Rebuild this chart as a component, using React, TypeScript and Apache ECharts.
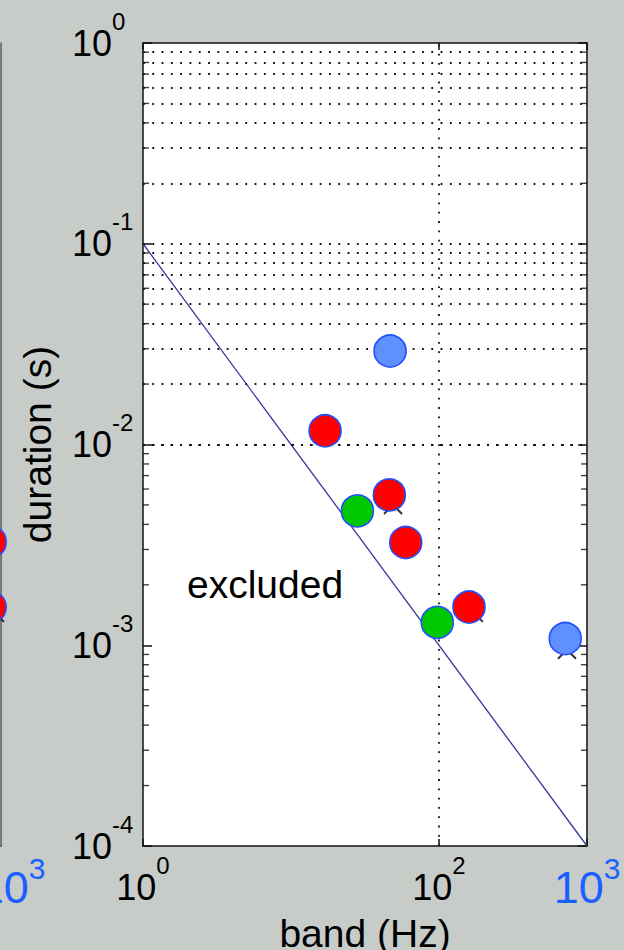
import React, { useEffect, useRef } from 'react';
import * as echarts from 'echarts';

const FONT = '"Liberation Sans", Arial, Helvetica, sans-serif';

// Tick values
const xTickValues = [1, 100, 1000];
const xBlueTick = 1000;
const yTickValues = [1e-4, 1e-3, 1e-2, 1e-1, 1];
const yGridMajor = [1e-3, 1e-2, 1e-1];
const yGridMinor = [
  2e-4, 3e-4, 4e-4, 5e-4, 6e-4, 7e-4, 8e-4, 9e-4,
  2e-3, 3e-3, 4e-3, 5e-3, 6e-3, 7e-3, 8e-3, 9e-3,
  2e-2, 3e-2, 4e-2, 5e-2, 6e-2, 7e-2, 8e-2, 9e-2,
  2e-1, 3e-1, 4e-1, 5e-1, 6e-1, 7e-1, 8e-1, 9e-1,
];
const xGridValues = [100];

// Exclusion boundary (duration = 0.1 / band)
const excludedLine = [[1, 0.1], [1000, 0.0001]];

// Main panel points [band (Hz), duration (s)]
const redPoints = [[17.0, 0.0117], [46.2, 0.00561], [59.6, 0.00325], [159.5, 0.00155]];
const greenPoints = [[28.1, 0.00467], [97.4, 0.0013]];
const bluePoints = [[46.7, 0.0292], [713, 0.00108]];
const crossPoints = [[48.9, 0.005], [172, 0.00145], [732, 0.00095]];

// Partially visible neighbouring panel
const leftRedPoints = [[845, 0.00327], [845, 0.00155]];
const leftCrossPoints = [[911, 0.00145]];

const BLACK = '#111';
const BLUE_TXT = '#1a5fff';
const CIRCLE_BORDER = '#1f4fff';

const rich = {
  b: { fontSize: 36, lineHeight: 68, fontFamily: FONT, color: '#000', verticalAlign: 'middle' },
  s: { fontSize: 24, lineHeight: 24, fontFamily: FONT, color: '#000', verticalAlign: 'top' },
  B: { fontSize: 45, lineHeight: 68, fontFamily: FONT, color: BLUE_TXT, verticalAlign: 'middle' },
  S: { fontSize: 30, lineHeight: 30, fontFamily: FONT, color: BLUE_TXT, verticalAlign: 'top' },
};

const expOf = (v: number) => Math.round(Math.log10(v));
const xLabel = (v: number) =>
  v === xBlueTick ? `{B|10}{S|${expOf(v)}}` : `{b|10}{s|${expOf(v)}}`;
const yLabel = (v: number) => `{b|10}{s|${expOf(v)}}`;

const circleSeries = (data: number[][], color: string, xi = 0, yi = 0) => ({
  type: 'scatter',
  xAxisIndex: xi,
  yAxisIndex: yi,
  data,
  symbol: 'circle',
  symbolSize: 32,
  clip: false,
  silent: true,
  itemStyle: { color, borderColor: CIRCLE_BORDER, borderWidth: 1.6, opacity: 1 },
  z: 6,
});

const crossSeries = (data: number[][], xi = 0, yi = 0) => ({
  type: 'scatter',
  xAxisIndex: xi,
  yAxisIndex: yi,
  data,
  symbol: 'path://M0,0L10,10M10,0L0,10',
  symbolSize: 18,
  clip: false,
  silent: true,
  itemStyle: { color: 'rgba(0,0,0,0)', borderColor: '#000', borderWidth: 2 },
  z: 4,
});

const minorTickSeries = (xVal: number, offset: number) => ({
  type: 'scatter',
  xAxisIndex: 0,
  yAxisIndex: 0,
  data: yGridMinor.map((v) => [xVal, v]),
  symbol: 'rect',
  symbolSize: [6, 1.4],
  symbolOffset: [offset, 0],
  clip: false,
  silent: true,
  itemStyle: { color: BLACK },
  z: 7,
});

export default function App() {
  const ref = useRef<HTMLDivElement>(null);

  useEffect(() => {
    if (!ref.current) return;
    const chart = echarts.init(ref.current, undefined, { renderer: 'svg' });

    const axisLine = { show: true, onZero: false, lineStyle: { color: BLACK, width: 1.5 } };

    const option: any = {
      animation: false,
      backgroundColor: '#c8ccc8',
      grid: [
        {
          left: 143, top: 43, width: 444, height: 803,
          show: true, backgroundColor: '#ffffff', borderWidth: 0,
          containLabel: false, outerBoundsMode: 'none',
        },
        {
          left: -443, top: 43, width: 444, height: 803,
          show: true, backgroundColor: '#ffffff', borderWidth: 0,
          containLabel: false, outerBoundsMode: 'none',
        },
      ],
      xAxis: [
        {
          gridIndex: 0, type: 'log', logBase: 10, min: 1, max: 1000, position: 'bottom',
          axisLine,
          axisTick: { show: true, inside: true, length: 7, customValues: xTickValues, lineStyle: { color: BLACK, width: 1.5 } },
          axisLabel: {
            show: true, customValues: xTickValues, margin: 7, formatter: xLabel, rich,
            showMinLabel: true, showMaxLabel: true,
          },
          splitLine: { show: false },
          minorTick: { show: false },
          name: 'band (Hz)', nameLocation: 'middle', nameGap: 51,
          nameTextStyle: { fontSize: 39, fontFamily: FONT, color: '#000' },
        },
        {
          gridIndex: 0, type: 'log', logBase: 10, min: 1, max: 1000, position: 'top',
          axisLine,
          axisTick: { show: true, inside: true, length: 7, customValues: xTickValues, lineStyle: { color: BLACK, width: 1.5 } },
          axisLabel: { show: false },
          splitLine: { show: false },
        },
        {
          gridIndex: 1, type: 'log', logBase: 10, min: 1, max: 1000, position: 'bottom',
          axisLine: { show: true, onZero: false, lineStyle: { color: '#555', width: 1.5 } },
          axisTick: { show: false },
          axisLabel: {
            show: true, customValues: [xBlueTick], margin: 7, formatter: xLabel, rich,
            padding: [0, 0, 0, 22], showMaxLabel: true,
          },
          splitLine: { show: false },
        },
      ],
      yAxis: [
        {
          gridIndex: 0, type: 'log', logBase: 10, min: 1e-4, max: 1, position: 'left',
          axisLine,
          axisTick: { show: true, inside: true, length: 9, customValues: yTickValues, lineStyle: { color: BLACK, width: 1.5 } },
          axisLabel: {
            show: true, customValues: yTickValues, align: 'left', margin: 71, formatter: yLabel, rich,
            showMinLabel: true, showMaxLabel: true,
          },
          splitLine: { show: false },
          name: 'duration (s)', nameLocation: 'middle', nameGap: 86,
          nameTextStyle: { fontSize: 39, fontFamily: FONT, color: '#000' },
        },
        {
          gridIndex: 0, type: 'log', logBase: 10, min: 1e-4, max: 1, position: 'right',
          axisLine,
          axisTick: { show: true, inside: true, length: 9, customValues: yTickValues, lineStyle: { color: BLACK, width: 1.5 } },
          axisLabel: { show: false },
          splitLine: { show: false },
        },
        {
          gridIndex: 1, type: 'log', logBase: 10, min: 1e-4, max: 1, position: 'right',
          axisLine: { show: true, onZero: false, lineStyle: { color: '#555', width: 1.5 } },
          axisTick: { show: false },
          axisLabel: { show: false },
          splitLine: { show: false },
        },
      ],
      graphic: [
        {
          type: 'text', left: 187, top: 565, z: 10,
          style: { text: 'excluded', font: `39px ${FONT}`, fill: '#000' },
        },
      ],
      series: [
        {
          type: 'line',
          xAxisIndex: 0,
          yAxisIndex: 0,
          data: excludedLine,
          showSymbol: false,
          symbol: 'none',
          silent: true,
          lineStyle: { color: '#38389a', width: 1.3 },
          z: 3,
          markLine: {
            silent: true,
            animation: false,
            symbol: ['none', 'none'],
            label: { show: false },
            lineStyle: { type: [1.8, 7.5], color: BLACK, width: 1.8 },
            emphasis: { disabled: true },
            data: [
              ...yGridMajor.map((v) => ({ yAxis: v })),
              ...yGridMinor.map((v) => ({ yAxis: v })),
              ...xGridValues.map((v) => ({ xAxis: v })),
            ],
          },
        },
        minorTickSeries(1, 3),
        minorTickSeries(1000, -3),
        crossSeries(crossPoints),
        circleSeries(bluePoints, '#6090ff'),
        circleSeries(greenPoints, '#00c800'),
        circleSeries(redPoints, '#ff0000'),
        crossSeries(leftCrossPoints, 2, 2),
        circleSeries(leftRedPoints, '#ff0000', 2, 2),
      ],
    };

    chart.setOption(option);
    return () => chart.dispose();
  }, []);

  return (
    <div
      ref={ref}
      style={{ position: 'absolute', left: 0, top: 0, width: 624, height: 950 }}
    />
  );
}
